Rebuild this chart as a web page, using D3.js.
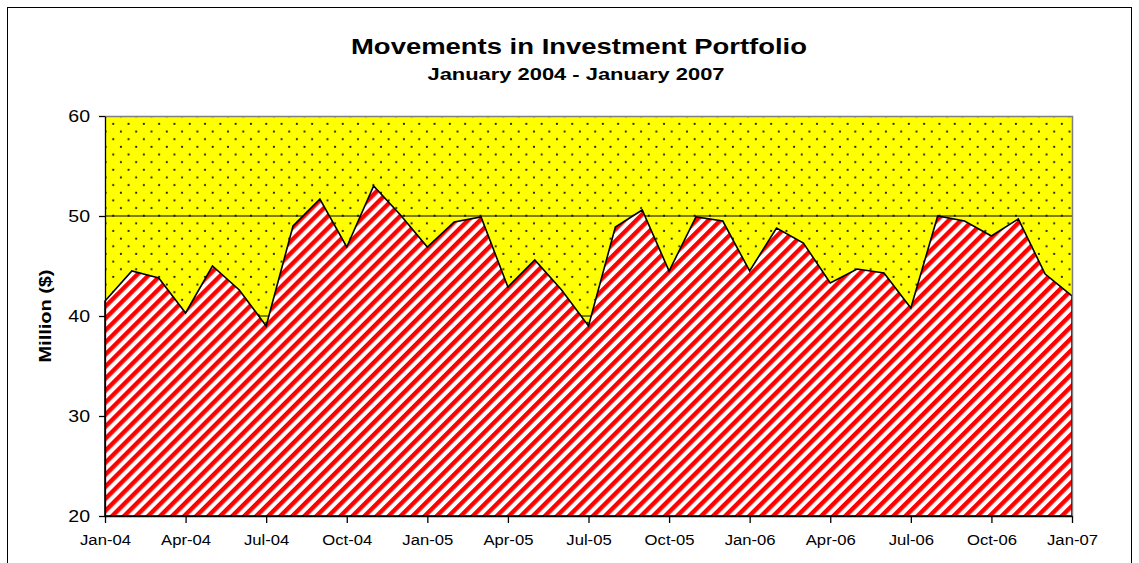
<!DOCTYPE html>
<html>
<head>
<meta charset="utf-8">
<script src="https://cdn.jsdelivr.net/npm/d3@7"></script>
<style>
    body { margin: 0; background: #fff; }
    text { font-family: "Liberation Sans", Arial, sans-serif; fill: #000; }
</style>
</head>
<body>
<svg id="chart" width="1139" height="563"></svg>
<script>
// monthly categories Jan-04 .. Jan-07
var months = ["Jan-04","Feb-04","Mar-04","Apr-04","May-04","Jun-04","Jul-04","Aug-04","Sep-04","Oct-04","Nov-04","Dec-04",
              "Jan-05","Feb-05","Mar-05","Apr-05","May-05","Jun-05","Jul-05","Aug-05","Sep-05","Oct-05","Nov-05","Dec-05",
              "Jan-06","Feb-06","Mar-06","Apr-06","May-06","Jun-06","Jul-06","Aug-06","Sep-06","Oct-06","Nov-06","Dec-06",
              "Jan-07"];

// portfolio value, million $
var portfolio = [41.5, 44.5, 43.8, 40.3, 45.0, 42.6, 39.0, 49.0, 51.7, 46.9, 53.0, 50.1,
                 46.9, 49.4, 49.9, 42.9, 45.6, 42.6, 39.0, 48.9, 50.6, 44.5, 49.9, 49.5,
                 44.5, 48.8, 47.3, 43.3, 44.7, 44.3, 40.8, 50.0, 49.5, 48.0, 49.7, 44.2,
                 42.0];

var yTicks = [20, 30, 40, 50, 60];
var gridValues = [30, 40, 50];
var xTickLabels = ["Jan-04","Apr-04","Jul-04","Oct-04","Jan-05","Apr-05","Jul-05","Oct-05",
                   "Jan-06","Apr-06","Jul-06","Oct-06","Jan-07"];

var title = "Movements in Investment Portfolio";
var subtitle = "January 2004 - January 2007";
var yLabel = "Million ($)";

var svg = d3.select("#chart");
var plot = {left: 105, top: 116, right: 1072, bottom: 516};

var x = d3.scalePoint().domain(months).range([plot.left, plot.right]);
var y = d3.scaleLinear().domain([20, 60]).range([plot.bottom, plot.top]);

// widen text a bit, the original renders wider glyphs
function stretch(sel, k) {
    sel.each(function () {
        var w = this.getComputedTextLength();
        d3.select(this).attr("textLength", w * k).attr("lengthAdjust", "spacingAndGlyphs");
    });
}

var defs = svg.append("defs");

var dots = defs.append("pattern")
    .attr("id", "dots")
    .attr("patternUnits", "userSpaceOnUse")
    .attr("x", 101.8).attr("y", 112.5)
    .attr("width", 15.3).attr("height", 15.3);
dots.append("rect").attr("width", 15.3).attr("height", 15.3).attr("fill", "#ffff00");
dots.append("circle").attr("cx", 3.8).attr("cy", 3.8).attr("r", 1.1).attr("fill", "#1a1a00");
dots.append("circle").attr("cx", 11.45).attr("cy", 11.45).attr("r", 1.1).attr("fill", "#1a1a00");

var stripes = defs.append("pattern")
    .attr("id", "stripes")
    .attr("patternUnits", "userSpaceOnUse")
    .attr("width", 8.5).attr("height", 8.5)
    .attr("patternTransform", "rotate(45)");
stripes.append("rect").attr("width", 8.5).attr("height", 8.5).attr("fill", "#fff");
stripes.append("rect").attr("width", 4.4).attr("height", 8.5).attr("fill", "#ff0000");

// chart frame
svg.append("rect")
    .attr("x", 7.5).attr("y", 7.5)
    .attr("width", 1124).attr("height", 580)
    .attr("fill", "#fff")
    .attr("stroke", "#000")
    .attr("stroke-width", 1);

// plot background
svg.append("rect")
    .attr("x", plot.left).attr("y", plot.top)
    .attr("width", plot.right - plot.left).attr("height", plot.bottom - plot.top)
    .attr("fill", "url(#dots)");

// gridlines
svg.selectAll("line.grid")
    .data(gridValues)
    .enter()
    .append("line")
    .attr("class", "grid")
    .attr("x1", plot.left).attr("x2", plot.right)
    .attr("y1", function (d) { return y(d); })
    .attr("y2", function (d) { return y(d); })
    .attr("stroke", "#000")
    .attr("stroke-width", 1);

// area
var area = d3.area()
    .x(function (d, i) { return x(months[i]); })
    .y0(y(20))
    .y1(function (d) { return y(d); });

svg.append("path")
    .datum(portfolio)
    .attr("d", area)
    .attr("fill", "url(#stripes)")
    .attr("stroke", "#000")
    .attr("stroke-width", 1.6)
    .attr("stroke-linejoin", "miter");

// plot border (top/right)
svg.append("path")
    .attr("d", "M" + plot.left + "," + (plot.top + 0.5) + "H" + (plot.right + 0.5) + "V" + plot.bottom)
    .attr("fill", "none")
    .attr("stroke", "#808080")
    .attr("stroke-width", 1.5);

// axes
var yAxis = svg.append("g")
    .attr("transform", "translate(" + plot.left + ",0)")
    .call(d3.axisLeft(y).tickValues(yTicks).tickSize(6).tickSizeOuter(0).tickPadding(9));
yAxis.selectAll("text").style("font-size", "16px").attr("fill", "#000");
yAxis.selectAll("line, path").attr("stroke", "#000").attr("stroke-width", 1.3);
stretch(yAxis.selectAll("text"), 1.22);

var xAxis = svg.append("g")
    .attr("transform", "translate(0," + plot.bottom + ")")
    .call(d3.axisBottom(x).tickValues(xTickLabels).tickSize(7).tickSizeOuter(0).tickPadding(12));
xAxis.selectAll("text").style("font-size", "14px").attr("fill", "#000");
xAxis.selectAll("line, path").attr("stroke", "#000").attr("stroke-width", 1.3);
stretch(xAxis.selectAll("text"), 1.19);

// titles
svg.append("text")
    .attr("x", 579).attr("y", 54)
    .attr("text-anchor", "middle")
    .style("font-size", "22.5px").style("font-weight", "bold")
    .attr("textLength", 456).attr("lengthAdjust", "spacingAndGlyphs")
    .text(title);

svg.append("text")
    .attr("x", 576).attr("y", 80)
    .attr("text-anchor", "middle")
    .style("font-size", "17px").style("font-weight", "bold")
    .attr("textLength", 297).attr("lengthAdjust", "spacingAndGlyphs")
    .text(subtitle);

svg.append("text")
    .attr("transform", "translate(45," + (plot.top + plot.bottom) / 2 + ") rotate(-90)")
    .attr("text-anchor", "middle")
    .attr("dy", "0.35em")
    .style("font-size", "16px").style("font-weight", "bold")
    .attr("textLength", 93).attr("lengthAdjust", "spacingAndGlyphs")
    .text(yLabel);
</script>
</body>
</html>
